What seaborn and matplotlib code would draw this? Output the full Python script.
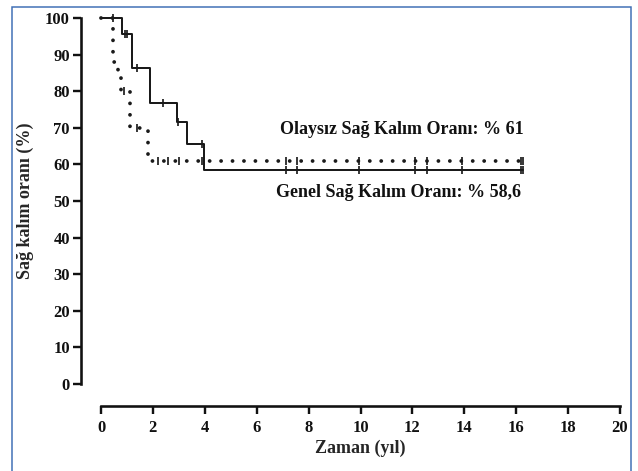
import numpy as np
import pandas as pd
import matplotlib
matplotlib.use("Agg")
import matplotlib.pyplot as plt
from matplotlib.patches import Rectangle
import seaborn as sns

# ---- data ----
os_times = [0, 0.8, 1.18, 1.9, 2.92, 3.3, 3.98, 16.26]
os_surv = [100, 95.6, 86.4, 76.9, 71.7, 65.6, 58.6, 58.6]
os_censor = [0.47, 0.92, 0.99, 1.4, 2.4, 2.97, 3.9, 7.13, 7.54, 9.95, 12.1, 12.55, 13.9, 16.2, 16.26]

efs_times = [0, 0.47, 0.65, 0.78, 1.1, 1.8, 16.26]
efs_surv = [100, 88, 84, 80, 70, 61, 61]
efs_censor = [0.9, 1.37, 2.2, 2.6, 3.0, 3.9, 7.13, 7.54, 9.95, 12.1, 12.55, 13.9, 16.2, 16.26]

x_ticks = list(range(0, 21, 2))
y_ticks = list(range(0, 101, 10))
label_efs = "Olaysız Sağ Kalım Oranı: % 61"
label_os = "Genel Sağ Kalım Oranı: % 58,6"
x_label = "Zaman (yıl)"
y_label = "Sağ kalım oranı (%)"


def step_value(times, surv, t):
    i = np.searchsorted(np.asarray(times), t, side="right") - 1
    return surv[max(i, 0)]


sns.set_style("white")
plt.rcParams["font.family"] = ["Liberation Serif", "DejaVu Serif"]
plt.rcParams["font.weight"] = "bold"

W, H = 638, 471
DPI = 72
fig = plt.figure(figsize=(W / DPI, H / DPI), dpi=DPI)
ax = fig.add_axes([101 / W, (H - 384) / H, (620 - 101) / W, (384 - 18) / H])

df_os = pd.DataFrame({"t": os_times, "s": os_surv})
df_efs = pd.DataFrame({"t": efs_times, "s": efs_surv})

sns.lineplot(data=df_os, x="t", y="s", ax=ax, drawstyle="steps-post",
             estimator=None, sort=False, color="#1a1a1a", lw=2.0, clip_on=False)
sns.lineplot(data=df_efs, x="t", y="s", ax=ax, drawstyle="steps-post",
             estimator=None, sort=False, color="#1a1a1a", lw=3.8,
             dashes=False, clip_on=False,
             linestyle=(0, (0.01, 3.0)), dash_capstyle="round")

cen_os = pd.DataFrame({"t": os_censor,
                       "s": [step_value(os_times, os_surv, t) for t in os_censor]})
cen_efs = pd.DataFrame({"t": efs_censor,
                        "s": [step_value(efs_times, efs_surv, t) for t in efs_censor]})
sns.scatterplot(data=cen_os, x="t", y="s", ax=ax, marker="|", s=64,
                color="#1a1a1a", linewidth=1.7, clip_on=False, zorder=3)
sns.scatterplot(data=cen_efs, x="t", y="s", ax=ax, marker="|", s=64,
                color="#1a1a1a", linewidth=1.7, clip_on=False, zorder=3)

ax.set_xlim(0, 20)
ax.set_ylim(0, 100)
ax.set_xticks(x_ticks)
ax.set_yticks(y_ticks)
ax.set_xticklabels([str(v) for v in x_ticks])
ax.set_yticklabels([str(v) for v in y_ticks])

for side in ["top", "right"]:
    ax.spines[side].set_visible(False)
ax.spines["left"].set_position(("outward", 20))
ax.spines["bottom"].set_position(("outward", 22))
for side in ["left", "bottom"]:
    ax.spines[side].set_linewidth(2.6)
    ax.spines[side].set_color("#111111")
ax.tick_params(axis="both", which="major", direction="out", length=8,
               width=2.4, color="#111111", labelcolor="#111111", pad=3,
               bottom=True, left=True, labelsize=16.5)
ax.tick_params(axis="x", pad=6)
for lab in ax.get_xticklabels() + ax.get_yticklabels():
    lab.set_fontweight("bold")

ax.set_xlabel(x_label, fontsize=18, fontweight="bold")
ax.set_ylabel(y_label, fontsize=18, fontweight="bold")
ax.xaxis.set_label_coords(0.5, (384 - 440) / 366)
ax.yaxis.set_label_coords((34 - 101) / 519, 0.5)

ax.text(16.3, 69.4, label_efs, ha="right", va="center", fontsize=18,
        fontweight="bold", color="#111111")
ax.text(16.2, 52.2, label_os, ha="right", va="center", fontsize=18,
        fontweight="bold", color="#111111")

fig.patches.append(Rectangle((12 / W, -0.01), (631 - 12) / W, (H - 7) / H + 0.01,
                             transform=fig.transFigure, fill=False,
                             edgecolor="#3f6fb5", linewidth=1.5))

fig.savefig("out.png", dpi=DPI)
